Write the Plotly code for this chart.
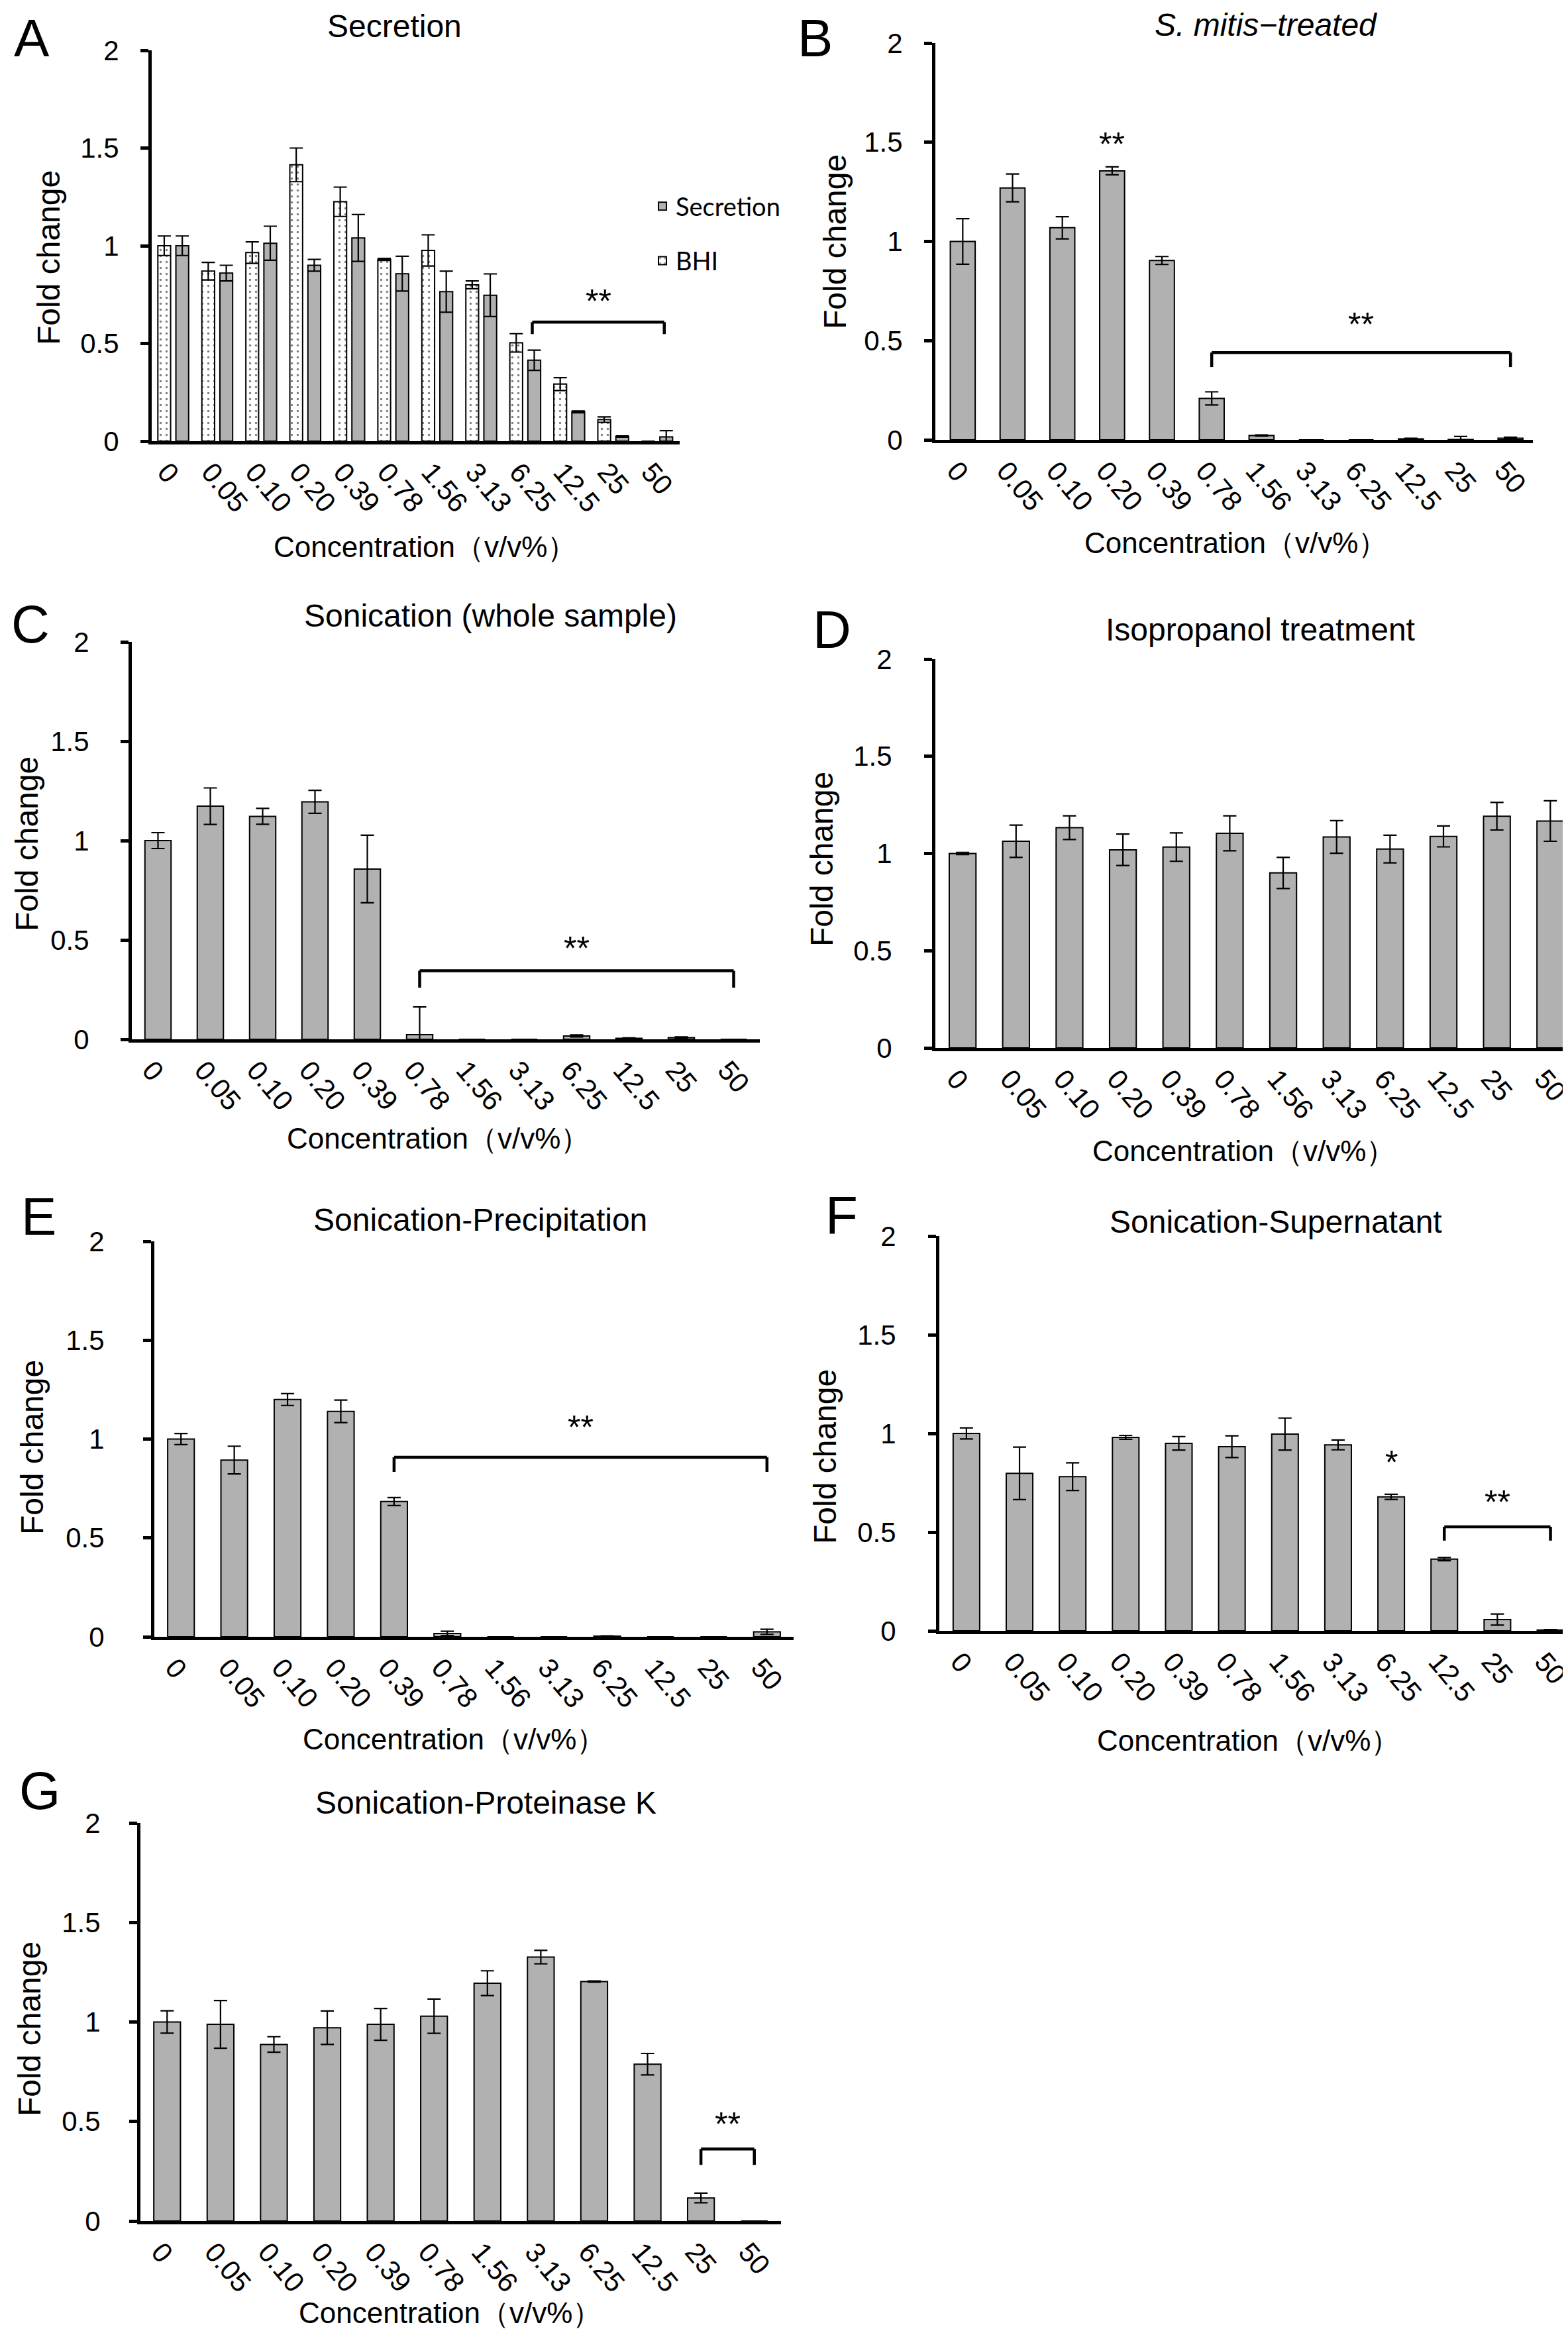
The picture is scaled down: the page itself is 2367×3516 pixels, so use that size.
import plotly.graph_objects as go

# ---------------- data ----------------
categories = ["0", "0.05", "0.10", "0.20", "0.39", "0.78", "1.56", "3.13", "6.25", "12.5", "25", "50"]

secretion_bhi = [1.00, 0.87, 0.965, 1.414, 1.225, 0.93, 0.976, 0.80, 0.503, 0.292, 0.11, 0.0]
secretion_bhi_err = [0.05, 0.045, 0.055, 0.086, 0.075, 0.005, 0.08, 0.02, 0.047, 0.033, 0.014, 0.0]
secretion_sec = [1.00, 0.86, 1.013, 0.90, 1.04, 0.857, 0.765, 0.747, 0.414, 0.15, 0.024, 0.022]
secretion_sec_err = [0.05, 0.04, 0.087, 0.03, 0.12, 0.089, 0.105, 0.109, 0.052, 0.005, 0.003, 0.032]

mitis = [1.0, 1.27, 1.069, 1.356, 0.904, 0.209, 0.022, 0.0, 0.0, 0.005, 0.002, 0.008]
mitis_err = [0.115, 0.07, 0.056, 0.02, 0.02, 0.033, 0.003, 0.0, 0.0, 0.003, 0.015, 0.005]

son_whole = [1.0, 1.173, 1.122, 1.195, 0.857, 0.023, 0.0, 0.0, 0.017, 0.005, 0.008, 0.0]
son_whole_err = [0.04, 0.092, 0.04, 0.058, 0.17, 0.14, 0.0, 0.0, 0.005, 0.002, 0.004, 0.0]

isopropanol = [1.0, 1.063, 1.133, 1.019, 1.033, 1.104, 0.90, 1.085, 1.023, 1.088, 1.192, 1.167]
isopropanol_err = [0.006, 0.083, 0.061, 0.081, 0.073, 0.09, 0.08, 0.084, 0.071, 0.054, 0.071, 0.104]

son_precip = [1.0, 0.894, 1.20, 1.14, 0.684, 0.017, 0.0, 0.0, 0.003, 0.0, 0.0, 0.025]
son_precip_err = [0.028, 0.07, 0.03, 0.057, 0.02, 0.011, 0.0, 0.0, 0.002, 0.0, 0.0, 0.013]

son_super = [1.0, 0.798, 0.781, 0.98, 0.95, 0.933, 0.997, 0.942, 0.679, 0.363, 0.057, 0.004]
son_super_err = [0.028, 0.133, 0.07, 0.01, 0.034, 0.055, 0.081, 0.025, 0.013, 0.008, 0.028, 0.002]

son_protk = [1.0, 0.988, 0.887, 0.971, 0.988, 1.029, 1.195, 1.326, 1.203, 0.788, 0.116, 0.0]
son_protk_err = [0.056, 0.12, 0.039, 0.084, 0.08, 0.086, 0.062, 0.034, 0.003, 0.054, 0.024, 0.0]

y_tick_values = [0, 0.5, 1, 1.5, 2]
y_tick_labels = ["0", "0.5", "1", "1.5", "2"]

panel_titles = ["Secretion", "<i>S. mitis−treated</i>", "Sonication (whole sample)",
                "Isopropanol treatment", "Sonication-Precipitation",
                "Sonication-Supernatant", "Sonication-Proteinase K"]
panel_letters = ["A", "B", "C", "D", "E", "F", "G"]

# significance brackets: (panel, category position from, to, bracket level, foot level, label, label level)
brackets = [
    (0, 8.16, 11.16, 0.609, 0.548, "**", 0.714),
    (1, 5, 11, 0.44, 0.367, "**", 0.58),
    (2, 5, 11, 0.345, 0.26, "**", 0.457),
    (4, 4, 11, 0.908, 0.834, "**", 1.06),
    (5, 9, 11, 0.527, 0.457, "**", 0.652),
    (6, 10, 11, 0.362, 0.282, "**", 0.487),
]
# single significance marks: (panel, category index, level, label)
marks = [(1, 3, 1.49, "**"), (5, 8, 0.854, "*")]

# ---------------- layout geometry (pixels) ----------------
W, H = 2367, 3516
FONT = "Liberation Sans, Arial, sans-serif"
GRAY = "#b1b1b1"

# left, right, top(value 2), bottom(value 0), x range, y-label standoff
boxes = [
    (221, 1018, 68, 658, (-0.49, 11.51), 24),
    (1404, 2306, 57, 656, (-0.55, 11.45), 24),
    (191, 1139, 961, 1561, (-0.5, 11.5), 39),
    (1404, 2367, 987, 1574, (-0.51, 11.43), 40),
    (225, 1190, 1866, 2463, (-0.5, 11.5), 50),
    (1410, 2367, 1858, 2454, (-0.51, 11.43), 40),
    (204, 1171, 2744, 3345, (-0.5, 11.5), 35),
]
title_pos = [(587, 31), (1903, 29), (732, 922), (1894, 942), (717, 1833), (1918, 1836), (725, 2713)]
letter_pos = [(40, 50), (1222, 50), (38, 935), (1248, 942), (50, 1828), (1262, 1826), (52, 2695)]
xlabel_pos = [(633, 817), (1857, 812), (653, 1710), (1869, 1729), (677, 2617), (1876, 2619), (671, 3483)]
ylabel_pos = [(65, 381), (1252, 357), (32, 1266), (1233, 1289), (40, 2177), (1237, 2191), (36, 3055)]


def px_x(v):
    return v / W


def px_y(v):
    return 1 - v / H


fig = go.Figure()
idx = list(range(len(categories)))

single_series = [
    (1, mitis, mitis_err),
    (2, son_whole, son_whole_err),
    (3, isopropanol, isopropanol_err),
    (4, son_precip, son_precip_err),
    (5, son_super, son_super_err),
    (6, son_protk, son_protk_err),
]


def axnames(i):
    s = "" if i == 0 else str(i + 1)
    return "x" + s, "y" + s


err_style = dict(type="data", visible=True, color="black", thickness=2.2, width=10)

# panel A: two series
xa, ya = axnames(0)
fig.add_trace(go.Bar(
    x=idx, y=secretion_sec, name="Secretion", width=0.29, offset=0.06,
    marker=dict(color=GRAY, line=dict(color="black", width=2)),
    error_y=dict(array=secretion_sec_err, **err_style), xaxis=xa, yaxis=ya,
    legendgroup="sec", legendrank=1))
fig.add_trace(go.Bar(
    x=idx, y=secretion_bhi, name="BHI", width=0.29, offset=-0.35,
    marker=dict(color="white", line=dict(color="black", width=2),
                pattern=dict(shape=".", fgcolor="black", bgcolor="white", size=9, solidity=0.12)),
    error_y=dict(array=secretion_bhi_err, **err_style), xaxis=xa, yaxis=ya,
    legendgroup="bhi", legendrank=2))

for p, vals, errs in single_series:
    xn, yn = axnames(p)
    fig.add_trace(go.Bar(
        x=idx, y=vals, width=0.5, showlegend=False,
        marker=dict(color=GRAY, line=dict(color="black", width=2)),
        error_y=dict(array=errs, **err_style), xaxis=xn, yaxis=yn))

layout = dict(
    width=W, height=H, margin=dict(l=0, r=0, t=0, b=0, pad=0, autoexpand=False),
    paper_bgcolor="white", plot_bgcolor="white", barmode="overlay",
    font=dict(family=FONT, color="black", size=42),
    showlegend=True,
    legend=dict(x=px_x(972), y=px_y(272), xanchor="left", yanchor="top",
                traceorder="grouped", tracegroupgap=30,
                font=dict(family="Lato, Liberation Sans, sans-serif", size=38),
                bgcolor="rgba(0,0,0,0)", itemwidth=30),
)

annotations = []
shapes = []
for i, (l, r, t, b, xr, ystand) in enumerate(boxes):
    s = "" if i == 0 else str(i + 1)
    xn, yn = axnames(i)
    layout["xaxis" + s] = dict(
        domain=[px_x(l), min(px_x(r), 1.0)], range=list(xr), anchor=yn,
        tickmode="array", tickvals=idx, ticktext=categories, tickangle=50,
        ticks="", showline=True, linewidth=5, linecolor="black",
        showgrid=False, zeroline=False, tickfont=dict(size=42),
        ticklabelstandoff=0, ticklabelshift=-10, ticklabeloverflow="allow",
        automargin=False, fixedrange=True)
    layout["yaxis" + s] = dict(
        domain=[px_y(b), px_y(t)], range=[0, 2], anchor=xn,
        tickmode="array", tickvals=y_tick_values, ticktext=y_tick_labels,
        ticks="outside", ticklen=12, tickwidth=5, tickcolor="black",
        showline=True, linewidth=5, linecolor="black",
        showgrid=False, zeroline=False, tickfont=dict(size=42),
        ticklabelstandoff=ystand, ticklabeloverflow="allow", automargin=False, fixedrange=True)

    tx, ty = title_pos[i]
    annotations.append(dict(text=panel_titles[i], x=px_x(tx), y=px_y(ty), xref="paper", yref="paper",
                            showarrow=False, xanchor="center", yanchor="middle", font=dict(size=48)))
    lx, ly = letter_pos[i]
    annotations.append(dict(text=panel_letters[i], x=px_x(lx), y=px_y(ly), xref="paper", yref="paper",
                            showarrow=False, xanchor="center", yanchor="middle", font=dict(size=80)))
    cx, cy = xlabel_pos[i]
    annotations.append(dict(text="Concentration（v/v%）", x=px_x(cx), y=px_y(cy), xref="paper", yref="paper",
                            showarrow=False, xanchor="center", yanchor="middle", font=dict(size=44)))
    fx, fy = ylabel_pos[i]
    annotations.append(dict(text="Fold change", x=px_x(fx), y=px_y(fy), xref="paper", yref="paper",
                            showarrow=False, xanchor="center", yanchor="middle", textangle=-90,
                            font=dict(size=48)))

for p, x0, x1, yl, yf, lab, ylab in brackets:
    xn, yn = axnames(p)
    for (a0, b0, a1, b1) in [(x0, yf, x0, yl), (x0, yl, x1, yl), (x1, yl, x1, yf)]:
        shapes.append(dict(type="line", xref=xn, yref=yn, x0=a0, y0=b0, x1=a1, y1=b1,
                           line=dict(color="black", width=4.5)))
    annotations.append(dict(text=lab, x=(x0 + x1) / 2, y=ylab, xref=xn, yref=yn, showarrow=False,
                            xanchor="center", yanchor="middle", font=dict(size=50)))

for p, xi, yl, lab in marks:
    xn, yn = axnames(p)
    annotations.append(dict(text=lab, x=xi, y=yl, xref=xn, yref=yn, showarrow=False,
                            xanchor="center", yanchor="middle", font=dict(size=50)))

layout["annotations"] = annotations
layout["shapes"] = shapes
fig.update_layout(**layout)

fig.write_html("out.html")
